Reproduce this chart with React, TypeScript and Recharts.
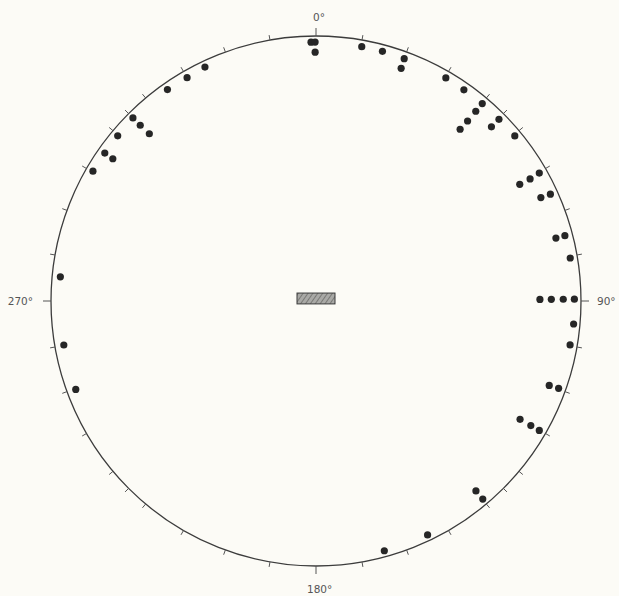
import React from 'react';
import { ScatterChart, Scatter, XAxis, YAxis, ReferenceDot, ReferenceArea } from 'recharts';

// Azimuth (degrees clockwise from 0°) and relative distance from centre of each plotted point
const dotAzimuths = [
  358.9, 359.8, 359.8, 10.2, 14.9, 20.0, 20.1, 30.2, 35.0, 40.1, 40.1, 40.1, 40.0,
  45.2, 45.2, 50.3, 60.2, 60.3, 60.2, 65.5, 65.3, 75.3, 75.3, 80.4,
  89.6, 89.6, 89.6, 89.6, 95.1, 99.8, 109.8, 109.9, 120.1, 120.1, 120.1,
  139.9, 139.9, 154.5, 164.7,
  334.6, 330.0, 324.9, 315.0, 315.0, 315.1, 309.8, 305.0, 305.0, 300.2,
  275.4, 260.1, 249.8,
];
const dotDistances = [
  0.977, 0.977, 0.939, 0.975, 0.975, 0.973, 0.935, 0.974, 0.973, 0.974, 0.936, 0.888, 0.846,
  0.973, 0.933, 0.975, 0.971, 0.930, 0.886, 0.972, 0.934, 0.971, 0.936, 0.973,
  0.975, 0.933, 0.888, 0.845, 0.976, 0.973, 0.973, 0.936, 0.974, 0.937, 0.890,
  0.977, 0.937, 0.978, 0.977,
  0.977, 0.973, 0.975, 0.977, 0.938, 0.891, 0.974, 0.973, 0.936, 0.974,
  0.969, 0.966, 0.966,
];

// Tick marks around the rim
const tickAzimuths = [
  0, 10, 20, 30, 40, 45, 50, 60, 70, 80, 90, 100, 110, 120, 130, 135, 140, 150, 160, 170,
  180, 190, 200, 210, 220, 225, 230, 240, 250, 260, 270, 280, 290, 300, 310, 315, 320, 330, 340, 350,
];
const labelAzimuths = [0, 90, 180, 270];
const labelTexts = ['0°', '90°', '180°', '270°'];

// Central box extents (relative units)
const boxX = [-0.0717, 0.0717];
const boxY = [-0.011, 0.03];

const W = 619;
const H = 596;
const CX = 316;
const CY = 301;
const R = 265;
const S = 294;
const D = S / R;

const rad = (a: number) => (a * Math.PI) / 180;

const dots = dotAzimuths.map((a, i) => ({
  x: dotDistances[i] * Math.sin(rad(a)),
  y: dotDistances[i] * Math.cos(rad(a)),
}));
const ticks = tickAzimuths.map((a) => ({ x: Math.sin(rad(a)), y: Math.cos(rad(a)), a }));
const labels = labelAzimuths.map((a, i) => ({
  x: Math.sin(rad(a)),
  y: Math.cos(rad(a)),
  a,
  text: labelTexts[i],
}));

const DotShape = (p: any) => <circle cx={p.cx} cy={p.cy} r={3.6} fill="#262626" />;

const TickShape = (p: any) => {
  const a = p.payload.a;
  const len = a % 90 === 0 ? 8 : 5;
  const dx = Math.sin(rad(a)) * len;
  const dy = -Math.cos(rad(a)) * len;
  return (
    <line x1={p.cx} y1={p.cy} x2={p.cx + dx} y2={p.cy + dy} stroke="#555" strokeWidth={1} />
  );
};

const LabelShape = (p: any) => {
  const a = p.payload.a;
  let x = p.cx;
  let y = p.cy;
  let anchor: 'start' | 'end' = 'start';
  if (a === 0) {
    x -= 3;
    y -= 15;
  } else if (a === 180) {
    x -= 9;
    y += 27;
  } else if (a === 270) {
    x -= 18;
    y += 4;
    anchor = 'end';
  } else {
    x += 16;
    y += 4;
  }
  return (
    <text
      x={x}
      y={y}
      textAnchor={anchor}
      fontFamily="DejaVu Sans"
      fontSize={10.5}
      fill="#555"
    >
      {p.payload.text}
    </text>
  );
};

const BoxShape = (p: any) => (
  <g>
    <defs>
      <pattern id="hatch" width="4" height="4" patternUnits="userSpaceOnUse" patternTransform="rotate(35)">
        <rect width="4" height="4" fill="#a9a9a6" />
        <line x1="0" y1="0" x2="0" y2="4" stroke="#6d6d6a" strokeWidth="1.6" />
      </pattern>
    </defs>
    <rect x={p.x} y={p.y} width={p.width} height={p.height} fill="url(#hatch)" stroke="#3a3a3a" strokeWidth={1} />
  </g>
);

export default function App() {
  return (
    <div style={{ position: 'fixed', left: 0, top: 0, width: W, height: H, background: '#fcfbf6' }}>
      <ScatterChart
        width={W}
        height={H}
        margin={{ left: CX - S, right: W - CX - S, top: CY - S, bottom: H - CY - S }}
      >
        <XAxis type="number" dataKey="x" domain={[-D, D]} hide />
        <YAxis type="number" dataKey="y" domain={[-D, D]} hide />
        <ReferenceDot x={0} y={0} r={R} fill="none" stroke="#3c3c3c" strokeWidth={1.3} />
        <ReferenceArea x1={boxX[0]} x2={boxX[1]} y1={boxY[0]} y2={boxY[1]} shape={BoxShape} />
        <Scatter data={ticks} shape={TickShape} isAnimationActive={false} />
        <Scatter data={labels} shape={LabelShape} isAnimationActive={false} />
        <Scatter data={dots} shape={DotShape} isAnimationActive={false} />
      </ScatterChart>
    </div>
  );
}
